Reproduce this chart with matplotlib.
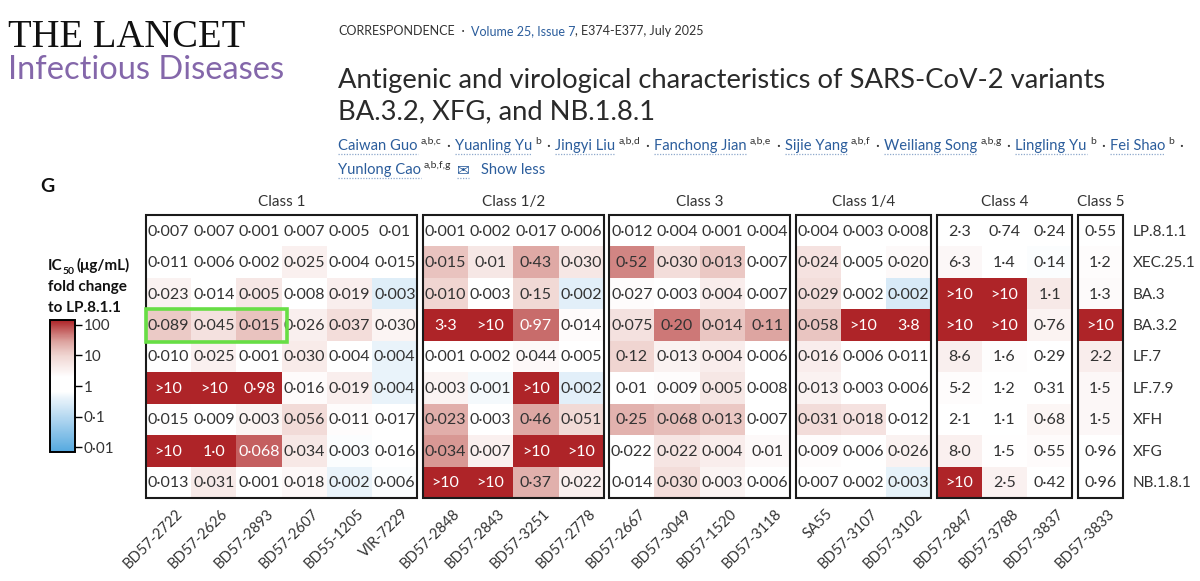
import numpy as np
import matplotlib

matplotlib.use("Agg")
import matplotlib.pyplot as plt
import matplotlib.transforms as mtransforms
from matplotlib.cm import ScalarMappable
from matplotlib.colors import LinearSegmentedColormap, LogNorm
from matplotlib.patches import Rectangle

plt.rcParams["font.family"] = ["Lato", "DejaVu Sans"]

# ---- data (IC50, ug/mL) ----
VARIANTS = ["LP.8.1.1", "XEC.25.1", "BA.3", "BA.3.2", "LF.7", "LF.7.9", "XFH", "XFG", "NB.1.8.1"]
GROUP_LABELS = ["Class 1", "Class 1/2", "Class 3", "Class 1/4", "Class 4", "Class 5"]
GROUP_SIZES = [6, 4, 4, 3, 3, 1]
ANTIBODIES = ["BD57-2722", "BD57-2626", "BD57-2893", "BD57-2607", "BD55-1205", "VIR-7229",
              "BD57-2848", "BD57-2843", "BD57-3251", "BD57-2778",
              "BD57-2667", "BD57-3049", "BD57-1520", "BD57-3118",
              "SA55", "BD57-3107", "BD57-3102",
              "BD57-2847", "BD57-3788", "BD57-3837",
              "BD57-3833"]

LP_8_1_1 = ["0.007", "0.007", "0.001", "0.007", "0.005", "0.01", "0.001", "0.002", "0.017", "0.006",
            "0.012", "0.004", "0.001", "0.004", "0.004", "0.003", "0.008", "2.3", "0.74", "0.24", "0.55"]
XEC_25_1 = ["0.011", "0.006", "0.002", "0.025", "0.004", "0.015", "0.015", "0.01", "0.43", "0.030",
            "0.52", "0.030", "0.013", "0.007", "0.024", "0.005", "0.020", "6.3", "1.4", "0.14", "1.2"]
BA_3 = ["0.023", "0.014", "0.005", "0.008", "0.019", "0.003", "0.010", "0.003", "0.15", "0.002",
        "0.027", "0.003", "0.004", "0.007", "0.029", "0.002", "0.002", ">10", ">10", "1.1", "1.3"]
BA_3_2 = ["0.089", "0.045", "0.015", "0.026", "0.037", "0.030", "3.3", ">10", "0.97", "0.014",
          "0.075", "0.20", "0.014", "0.11", "0.058", ">10", "3.8", ">10", ">10", "0.76", ">10"]
LF_7 = ["0.010", "0.025", "0.001", "0.030", "0.004", "0.004", "0.001", "0.002", "0.044", "0.005",
        "0.12", "0.013", "0.004", "0.006", "0.016", "0.006", "0.011", "8.6", "1.6", "0.29", "2.2"]
LF_7_9 = [">10", ">10", "0.98", "0.016", "0.019", "0.004", "0.003", "0.001", ">10", "0.002",
          "0.01", "0.009", "0.005", "0.008", "0.013", "0.003", "0.006", "5.2", "1.2", "0.31", "1.5"]
XFH = ["0.015", "0.009", "0.003", "0.056", "0.011", "0.017", "0.023", "0.003", "0.46", "0.051",
       "0.25", "0.068", "0.013", "0.007", "0.031", "0.018", "0.012", "2.1", "1.1", "0.68", "1.5"]
XFG = [">10", "1.0", "0.068", "0.034", "0.003", "0.016", "0.034", "0.007", ">10", ">10",
       "0.022", "0.022", "0.004", "0.01", "0.009", "0.006", "0.026", "8.0", "1.5", "0.55", "0.96"]
NB_1_8_1 = ["0.013", "0.031", "0.001", "0.018", "0.002", "0.006", ">10", ">10", "0.37", "0.022",
            "0.014", "0.030", "0.003", "0.006", "0.007", "0.002", "0.003", ">10", "2.5", "0.42", "0.96"]
ROWS = [LP_8_1_1, XEC_25_1, BA_3, BA_3_2, LF_7, LF_7_9, XFH, XFG, NB_1_8_1]

AUTHORS = ["Caiwan Guo", "Yuanling Yu", "Jingyi Liu", "Fanchong Jian", "Sijie Yang",
           "Weiliang Song", "Lingling Yu", "Fei Shao", "Yunlong Cao"]
AFFILS = ["a,b,c", "b", "a,b,d", "a,b,e", "a,b,f", "a,b,g", "b", "b", "a,b,f,g"]

W, H = 1200, 581
GAP = 0.12
DARK = "#333333"
BLUE = "#2b5d9c"
VMIN, VMAX = 10 ** -2.16, 10 ** 2.16


def pos(v):
    return (np.log10(v) + 2.16) / 4.32


CMAP = LinearSegmentedColormap.from_list("fold", [
    (0.0, "#55a9df"), (pos(0.1), "#b7d9f1"), (pos(0.4), "#e9f3fa"), (pos(0.65), "#ffffff"),
    (pos(2.0), "#ffffff"), (pos(10), "#f0d6d2"), (pos(30), "#dca29e"), (1.0, "#ae2428")])
NORM = LogNorm(VMIN, VMAX)


def fold_change():
    vals = np.array([[np.nan if s.startswith(">") else float(s) for s in r] for r in ROWS])
    fold = vals / vals[0]
    fold[np.isnan(vals)] = VMAX * 2
    return fold


fig = plt.figure(figsize=(W / 100, H / 100), dpi=100)
renderer = fig.canvas.get_renderer()


def put(x, y, s, size, color=DARK, **kw):
    t = fig.text(x / W, 1 - y / H, s, fontsize=size, color=color, va="baseline", ha="left", **kw)
    return t.get_window_extent(renderer).width


def underline(x, y, w):
    fig.add_artist(plt.Line2D([x / W, (x + w) / W], [1 - y / H] * 2, color="#8fa9cc",
                              lw=0.9, ls=(0, (1, 1.2))))


# ---- header ----
put(8, 47, "THE LANCET", 27.8, "#111111", family=["Liberation Serif", "DejaVu Serif"])
put(8, 79, "Infectious Diseases", 23.5, "#8467aa")

x = 338
x += put(x, 35, "CORRESPONDENCE", 9)
x += put(x, 35, "  ·  ", 9)
x += put(x, 35, "Volume 25, Issue 7", 9, BLUE)
put(x, 35, ", E374-E377, July 2025", 9)

put(338, 88, "Antigenic and virological characteristics of SARS-CoV-2 variants", 19.7, "#2a2a2a")
put(338, 119, "BA.3.2, XFG, and NB.1.8.1", 19.7, "#2a2a2a")

x, y = 338, 150
for i, (name, aff) in enumerate(zip(AUTHORS, AFFILS)):
    w = put(x, y, name, 10.6, BLUE)
    underline(x, y + 4, w)
    x += w + 3
    x += put(x, y - 6, aff, 7.5) + 5
    if i < len(AUTHORS) - 1:
        x += put(x, y, "·", 10.6) + 5
    if name == "Fei Shao":
        x, y = 338, 174
w = put(x, y, "✉", 11, BLUE, family=["DejaVu Sans"])
underline(x, y + 4, w)
put(x + w + 12, y, "Show less", 10.6, BLUE)

put(40, 192, "G", 14, "#111111", fontweight="bold")

# ---- legend / colorbar ----
x = 48
x += put(x, 270, "IC", 11, "#111111", fontweight="bold")
x += put(x, 274, "50", 7.5, "#111111", fontweight="bold")
put(x + 2, 270, "(μg/mL)", 11, "#111111", fontweight="bold")
put(48, 291, "fold change", 11, "#111111", fontweight="bold")
put(48, 312, "to LP.8.1.1", 11, "#111111", fontweight="bold")

cax = fig.add_axes([50 / W, 1 - 452 / H, 25 / W, 132 / H])
cb = fig.colorbar(ScalarMappable(NORM, CMAP), cax=cax)
cb.minorticks_off()
cb.set_ticks([0.01, 0.1, 1, 10, 100])
cb.set_ticklabels(["0·01", "0·1", "1", "10", "100"])
cb.outline.set_linewidth(1.4)
cax.tick_params(length=5, width=1, labelsize=11, labelcolor=DARK, pad=1)

# ---- heatmap ----
fold = fold_change()
ax = fig.add_axes([146 / W, 1 - 498 / H, 977 / W, 283 / H])
total = sum(GROUP_SIZES) + GAP * (len(GROUP_SIZES) - 1)
ax.set_xlim(0, total)
ax.set_ylim(len(VARIANTS), 0)
for s in ax.spines.values():
    s.set_visible(False)

centers = []
col = 0
for k, (label, n) in enumerate(zip(GROUP_LABELS, GROUP_SIZES)):
    x0 = col + k * GAP
    cols = list(range(col, col + n))
    ax.pcolormesh(x0 + np.arange(n + 1), np.arange(len(VARIANTS) + 1), fold[:, cols],
                  cmap=CMAP, norm=NORM, shading="flat")
    ax.add_patch(Rectangle((x0, 0), n, len(VARIANTS), fill=False, ec="#1a1a1a", lw=1.5,
                           clip_on=False, zorder=5))
    ax.text(x0 + n / 2, -0.4, label, ha="center", va="center", fontsize=11, color=DARK)
    for j, c in enumerate(cols):
        xc = x0 + j + 0.5
        centers.append(xc)
        for i, row in enumerate(ROWS):
            s = row[c]
            white = s.startswith(">") or fold[i, c] > 55
            ax.text(xc, i + 0.53, s.replace(".", "·"), ha="center", va="center", fontsize=11.5,
                    color="white" if white else DARK)
    col += n

for i, v in enumerate(VARIANTS):
    ax.text(total + 0.22, i + 0.53, v, ha="left", va="center", fontsize=11, color=DARK)

ax.set_yticks([])
ax.set_xticks(centers)
ax.set_xticklabels(ANTIBODIES, rotation=45, ha="right", va="top", rotation_mode="anchor",
                   fontsize=10.5, color=DARK)
ax.tick_params(axis="x", length=0, pad=6)
shift = mtransforms.ScaledTranslation(5 / 72, 0, fig.dpi_scale_trans)
for lab in ax.get_xticklabels():
    lab.set_transform(lab.get_transform() + shift)

ax.add_patch(Rectangle((0, 2.98), 3.12, 1.06, fill=False, ec="#67de45", lw=2.6,
                       clip_on=False, zorder=6))

fig.savefig("out.png", dpi=100)
